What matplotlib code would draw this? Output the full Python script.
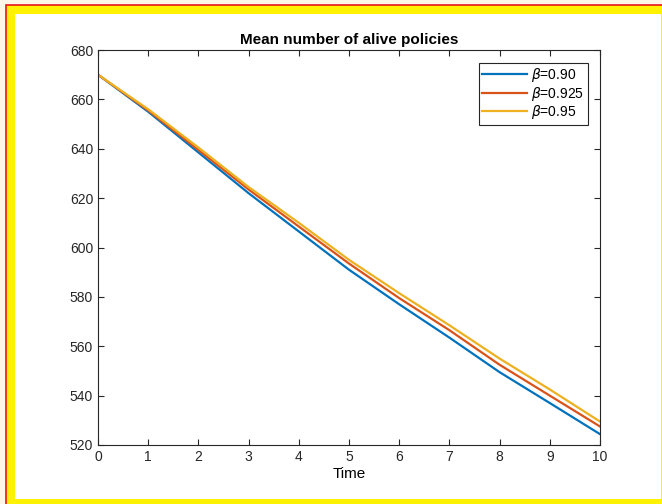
import matplotlib
matplotlib.use("Agg")
import matplotlib.pyplot as plt
from matplotlib.patches import Rectangle

plt.rcParams['font.family'] = ['Liberation Sans', 'DejaVu Sans']

time = [0, 1, 2, 3, 4, 5, 6, 7, 8, 9, 10]
beta_090 = [670, 655, 638.5, 622, 606.5, 591, 577, 563.5, 549.5, 537, 524.4]
beta_0925 = [670, 655.5, 639.5, 623.5, 608.5, 593.5, 579.5, 566.5, 552.5, 540, 527.5]
beta_095 = [670, 656, 640.5, 624.5, 610, 595, 581.5, 568.5, 555, 542.5, 529.5]
labels = [r'$\beta$=0.90', r'$\beta$=0.925', r'$\beta$=0.95']
colors = ['#0072BD', '#D95319', '#EDB120']

W, H = 662, 504
fig = plt.figure(figsize=(W / 100, H / 100), dpi=100)
fig.patch.set_facecolor('#fdf5e6')
fig.patches.append(Rectangle((6 / W, -0.05), 1.0, 1.05 - 5 / H, transform=fig.transFigure,
                             facecolor='#fff200', edgecolor='#e8141c', linewidth=1.2, zorder=-2))
fig.patches.append(Rectangle((15 / W, 5 / H), (661 - 15) / W, (499 - 14) / H, transform=fig.transFigure,
                             facecolor='white', edgecolor='none', zorder=-1))

ax = fig.add_axes([98 / W, 1 - 445 / H, (600 - 98) / W, (445 - 50) / H])
for ys, lab, c in zip([beta_090, beta_0925, beta_095], labels, colors):
    ax.plot(time, ys, color=c, linewidth=1.6, label=lab)

ax.set_xlim(0, 10)
ax.set_ylim(520, 680)
ax.set_xticks(range(0, 11))
ax.set_yticks(range(520, 681, 20))
ax.tick_params(direction='in', top=True, right=True, labelsize=10, colors='#262626', length=4)
for s in ax.spines.values():
    s.set_color('#262626')
    s.set_linewidth(0.8)
ax.set_title('Mean number of alive policies', fontsize=11, fontweight='bold', pad=4)
ax.set_xlabel('Time', fontsize=11, labelpad=2)
leg = ax.legend(loc='upper right', fontsize=10, fancybox=False, edgecolor='#262626',
                handlelength=3.2, borderaxespad=0.9, borderpad=0.25, labelspacing=0.05,
                handletextpad=0.3, framealpha=1)
leg.get_frame().set_linewidth(0.8)

fig.savefig('out.png', dpi=100, facecolor=fig.get_facecolor())
